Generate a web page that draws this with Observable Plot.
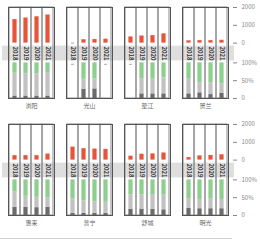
<!DOCTYPE html>
<html>
<head>
<meta charset="utf-8">
<script src="https://cdn.jsdelivr.net/npm/d3@7"></script>
<script src="https://cdn.jsdelivr.net/npm/@observablehq/plot@0.6"></script>
<style>
  html, body { margin: 0; padding: 0; background: #fff; }
  #wrap { position: relative; width: 260px; height: 240px; }
  #rule { position: absolute; left: 0; top: 238px; width: 232px; height: 1px; background: #d0d0d0; }
</style>
</head>
<body>
<div id="wrap"><div id="chart"></div><div id="rule"></div></div>
<script>
const cities = ["浏阳", "光山", "垫江", "贺兰", "惠来", "普宁", "舒城", "明光"];
const years = [2018, 2019, 2020, 2021];
// top (red) values, scale 0–2000
const output = [
  [1320, 1410, 1480, 1580],
  [null, 190, 200, 220],
  [350, 400, 420, 520],
  [130, 140, 140, 160],
  [250, 250, 250, 340],
  [730, 640, 620, 600],
  [220, 330, 350, 400],
  [140, 240, 260, 300]
];
// bottom stacked shares (%)
const greenShare = [
  [29, 31, 31, 27], [null, 46, 45, null], [null, 44, 44, 42], [44, 56, 56, 59],
  [33, 46, 49, 51], [54, 59, 62, 63], [42, 42, 43, 43], [54, 55, 54, 55]
];
const lightShare = [
  [64, 62, 62, 66], [null, 28, 28, null], [null, 43, 43, 45], [43, 28, 33, 27],
  [44, 31, 29, 26], [40, 35, 32, 31], [41, 40, 40, 41], [26, 26, 27, 26]
];
const darkShare = [
  [7, 7, 7, 7], [null, 26, 27, null], [null, 13, 13, 13], [13, 16, 11, 14],
  [23, 23, 22, 23], [6, 6, 6, 6], [17, 18, 17, 16], [20, 19, 19, 19]
];
const axisLabels = ["0", "50%", "100%", "0", "1000", "2000"];

// unified vertical layout units: 0–100 = shares, RED0.. = red values/20
const RED0 = 155.5, TOP = 255.5, BAND0 = 105.5, BAND1 = 147;
const tickPos = [0, 50, 100, RED0, RED0 + 50, RED0 + 100];
const tickLabel = new Map(tickPos.map((p, i) => [p, axisLabels[i]]));

const facetOf = i => ({col: i % 4, row: Math.floor(i / 4)});
const cityRows = cities.map((c, i) => ({city: c, ...facetOf(i)}));
const redRows = cities.flatMap((c, i) => years.map((y, j) => ({city: c, ...facetOf(i), year: y, value: output[i][j]})));
const segs = [["dark", darkShare], ["light", lightShare], ["green", greenShare]];
const stackRows = [];
cities.forEach((c, i) => years.forEach((y, j) => segs.forEach(([s, arr]) => {
  stackRows.push({city: c, ...facetOf(i), year: y, seg: s, pct: arr[i][j]});
})));
const missingStack = stackRows.filter(d => d.seg === "green" && d.pct == null);

const ins = 3.4;
const chart = Plot.plot({
  width: 260,
  height: 240,
  marginTop: 7,
  marginBottom: 24,
  marginLeft: 6,
  marginRight: 30,
  style: {fontFamily: "'Noto Sans CJK SC', 'Noto Sans', sans-serif", background: "transparent"},
  fx: {domain: [0, 1, 2, 3], paddingInner: 0.2, paddingOuter: 0, axis: null},
  fy: {domain: [0, 1], paddingInner: 0.22, paddingOuter: 0, axis: null},
  x: {type: "band", domain: years, padding: 0, axis: null},
  y: {domain: [0, TOP]},
  color: {domain: ["dark", "light", "green"], range: ["#6b6b6b", "#c2c2c2", "#8dcf8d"]},
  marks: [
    Plot.barY([0], {y1: BAND0, y2: BAND1, fill: "#dedede", insetLeft: -6, insetRight: -6}),
    Plot.barY(years, {x: d => d, y1: 0, y2: TOP, fill: "none", stroke: "#8a8a8a"}),
    Plot.barY(stackRows.filter(d => d.pct != null), {fx: "col", fy: "row", x: "year", y: "pct", fill: "seg", insetLeft: ins, insetRight: ins}),
    Plot.barY(redRows.filter(d => d.value != null), {fx: "col", fy: "row", x: "year", y1: RED0, y2: d => RED0 + d.value / 20, fill: "#e8543a", insetLeft: ins, insetRight: ins}),
    Plot.tickY(redRows.filter(d => d.value == null), {fx: "col", fy: "row", x: "year", y: RED0, stroke: "#aaa", insetLeft: 4, insetRight: 4}),
    Plot.tickY(missingStack, {fx: "col", fy: "row", x: "year", y: 96, stroke: "#aaa", insetLeft: 4, insetRight: 4}),
    Plot.text(years, {x: d => d, y: (BAND0 + BAND1) / 2, text: d => String(d), rotate: 90, fontSize: 6, fontWeight: "bold", fill: "#333"}),
    Plot.frame({stroke: "#555"}),
    Plot.text(cityRows, {fx: "col", fy: "row", text: "city", frameAnchor: "bottom", dy: 9, fontSize: 6, fill: "#666"}),
    Plot.axisY({anchor: "right", ticks: tickPos, tickFormat: d => tickLabel.get(d), tickSize: 4, tickPadding: 5, dx: 4, fontSize: 6, color: "#888", label: null})
  ]
});
document.getElementById("chart").appendChild(chart);
</script>
</body>
</html>
